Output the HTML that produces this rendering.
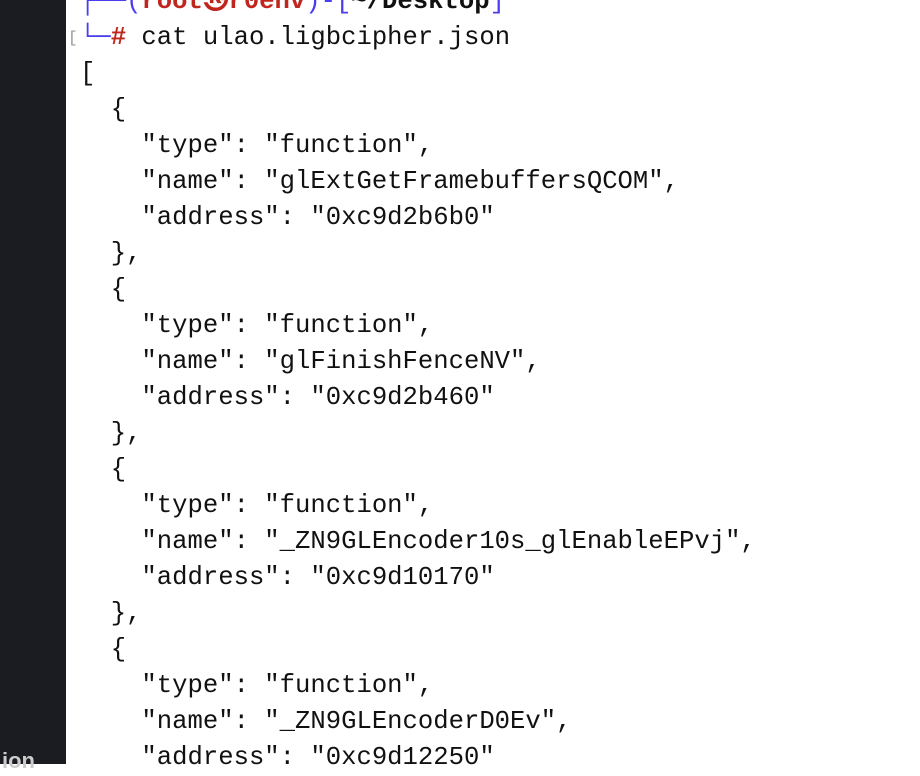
<!DOCTYPE html>
<html><head><meta charset="utf-8"><style>
html,body{margin:0;padding:0;}
body{width:920px;height:764px;background:#fff;position:relative;overflow:hidden;font-family:"Liberation Mono","DejaVu Sans Mono",monospace;font-size:25.6px;color:#111;}
.side{position:absolute;left:0;top:0;width:66px;height:764px;background:#1b1c22;}
.l{position:absolute;left:80px;height:36px;line-height:36px;white-space:pre;}
.b{color:#4a3cf0}.r{color:#c0261e;font-weight:bold}.k{font-weight:bold}
.g{position:absolute;left:68px;top:26px;color:#999;font-size:16px;line-height:24px;}
.ion{position:absolute;left:2px;top:748px;color:#ccc;font-family:"Liberation Sans",sans-serif;font-size:22px;font-weight:bold;}
</style></head><body>
<div class="side"></div>
<div class="ion">ion</div>
<div class="g">[</div>
<div class="l" style="top:-16px"><span class="b">┌──(</span><span class="r">root㉿r0env</span><span class="b">)-[</span><span class="k">~/Desktop</span><span class="b">]</span></div>
<div class="l" style="top:20px"><span class="b">└─</span><span class="r">#</span> cat ulao.ligbcipher.json</div>
<div class="l" style="top:56px">[</div>
<div class="l" style="top:92px">  {</div>
<div class="l" style="top:128px">    "type": "function",</div>
<div class="l" style="top:164px">    "name": "glExtGetFramebuffersQCOM",</div>
<div class="l" style="top:200px">    "address": "0xc9d2b6b0"</div>
<div class="l" style="top:236px">  },</div>
<div class="l" style="top:272px">  {</div>
<div class="l" style="top:308px">    "type": "function",</div>
<div class="l" style="top:344px">    "name": "glFinishFenceNV",</div>
<div class="l" style="top:380px">    "address": "0xc9d2b460"</div>
<div class="l" style="top:416px">  },</div>
<div class="l" style="top:452px">  {</div>
<div class="l" style="top:488px">    "type": "function",</div>
<div class="l" style="top:524px">    "name": "_ZN9GLEncoder10s_glEnableEPvj",</div>
<div class="l" style="top:560px">    "address": "0xc9d10170"</div>
<div class="l" style="top:596px">  },</div>
<div class="l" style="top:632px">  {</div>
<div class="l" style="top:668px">    "type": "function",</div>
<div class="l" style="top:704px">    "name": "_ZN9GLEncoderD0Ev",</div>
<div class="l" style="top:740px">    "address": "0xc9d12250"</div>
</body></html>
